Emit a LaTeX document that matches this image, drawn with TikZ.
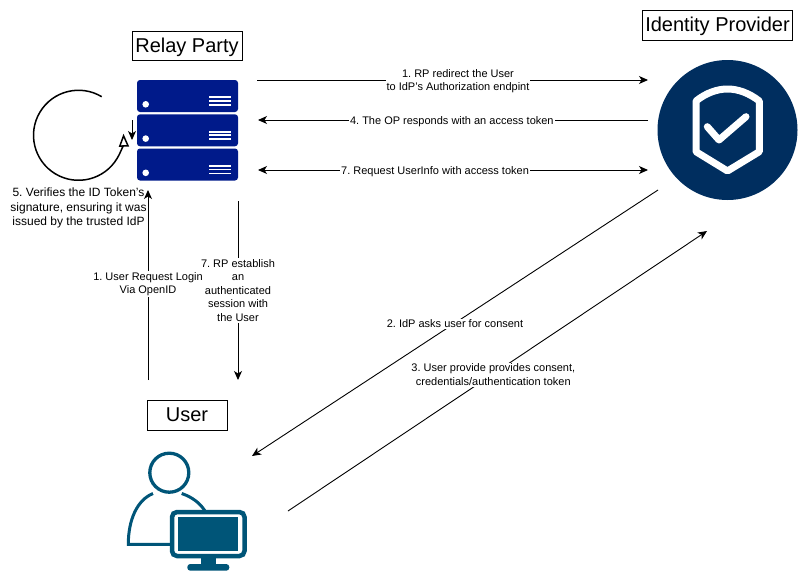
\documentclass[tikz,border=0pt]{standalone}
\usepackage{fontspec}
\setmainfont{Liberation Sans}
\usetikzlibrary{arrows.meta}
\definecolor{rpblue}{HTML}{001A8A}
\definecolor{idpblue}{HTML}{002E5F}
\definecolor{userblue}{HTML}{005578}
\frenchspacing
\begin{document}
\begin{tikzpicture}[
            x=1pt, y=-1pt,
            >={Stealth[length=9pt,width=8pt,inset=2.5pt]},
            title/.style={draw, rectangle, line width=1pt, inner sep=0pt,
                            text height=16pt, text depth=3pt,
                            font=\fontsize{20}{24}\selectfont},
            flow/.style={draw, line width=0.9pt},
            lbl/.style={fill=white, align=center, inner sep=1pt,
                            font=\fontsize{11}{13.5}\selectfont}
        ]

            \useasboundingbox (0,0) rectangle (808,581);

            % titles
            \node[title, minimum width=110pt, minimum height=29pt] (rp) at (187,45.5) {Relay Party};
            \node[title, minimum width=150pt, minimum height=30pt] (idp) at (717.5,25) {Identity Provider};
            \node[title, minimum width=80pt, minimum height=30pt] (user) at (187,415) {User};

            % server icon
            \foreach \dy in {0,34.3,68.5} {
                \fill[rpblue, rounded corners=3pt] (137,80+\dy) rectangle (238,112+\dy);
                \fill[white] (145.7,104.3+\dy) circle (3.3pt);
                \foreach \ly in {97.3,101,105}
                    \draw[white, line width=1.8pt] (209,\ly+\dy) -- (231,\ly+\dy);
            }

            % shield icon
            \fill[idpblue] (727.5,130) circle (70pt);
            \draw[white, line width=7pt, line join=round] (696,101) .. controls (706,93) and (717,89) .. (727.5,89)
                .. controls (738,89) and (749,93) .. (759.3,101) -- (759.3,151.7) -- (727.5,171) -- (696,151.7) -- cycle;
            \draw[white, line width=7pt, line cap=round, line join=round] (707.3,126.7) -- (719,140) -- (746,116.7);

            % user icon
            \draw[userblue, line width=3.3pt] (169.3,472.7) circle (19.5pt);
            \draw[userblue, line width=3pt] (153,493.5) .. controls (137,500) and (128.3,520) .. (128.3,544.3) -- (172,544.3);
            \draw[userblue, line width=3pt] (181.7,493.5) .. controls (192,497) and (200,503) .. (205,511);
            \draw[userblue, line width=4.5pt, fill=white, rounded corners=5pt] (172,512) rectangle (244.5,556);
            \fill[userblue] (178.3,517.3) rectangle (238.3,551.3);
            \fill[userblue] (200.7,557) rectangle (216,565);
            \fill[userblue, rounded corners=3pt] (187.3,564) rectangle (229.3,570.7);

            % end points of the connectors
            \coordinate (rpa) at (257,80);
            \coordinate (idpa) at (648,80);
            \coordinate (rpb) at (258,120);
            \coordinate (idpb) at (648,120);
            \coordinate (rpc) at (258,170);
            \coordinate (idpc) at (648,170);
            \coordinate (idpd) at (658,190);
            \coordinate (userd) at (252,456);
            \coordinate (usere) at (288,511);
            \coordinate (idpe) at (707,231);
            \coordinate (userf) at (148,380);
            \coordinate (rpf) at (148,190);
            \coordinate (rpg) at (238,201);
            \coordinate (userg) at (238,380);
            \coordinate (loopa) at (132,120);
            \coordinate (loopb) at (132,140);
            \coordinate (loopc) at (101.7,96.7);

            % connectors
            \draw[flow,->] (rpa) -- node[lbl, pos=0.514, yshift=-1pt] {1. RP redirect the User\\to IdP's Authorization endpint} (idpa);
            \draw[flow,->] (idpb) -- node[lbl, pos=0.503, yshift=-1.5pt] {4. The OP responds with an access token} (rpb);
            \draw[flow,<->] (rpc) -- node[lbl, pos=0.454, yshift=-2pt] {7. Request UserInfo with access token} (idpc);
            \draw[flow,->] (idpd) -- node[lbl, pos=0.5, yshift=-1pt] {2. IdP asks user for consent} (userd);
            \draw[flow,->] (usere) -- node[lbl, pos=0.49, yshift=-1pt] {3. User provide provides consent,\\credentials/authentication token} (idpe);
            \draw[flow,->] (rpg) -- node[lbl, pos=0.5] {7. RP establish\\an\\authenticated\\session with\\the User} (userg);
            \draw[flow,->] (userf) -- node[lbl, pos=0.505] {1. User Request Login\\Via OpenID} (rpf);
            \draw[flow,->] (loopa) -- (loopb);
            \draw[line width=1.5pt, -{Triangle[open, fill=white, length=13pt, width=10pt]}] (loopc) arc[start angle=59, end angle=362, radius=45pt];

            \node[font=\fontsize{12}{14.5}\selectfont, align=center, inner sep=0pt] (verify) at (78.5,208) {5. Verifies the ID Token's\\signature, ensuring it was\\issued by the trusted IdP};

        \end{tikzpicture}
\end{document}
